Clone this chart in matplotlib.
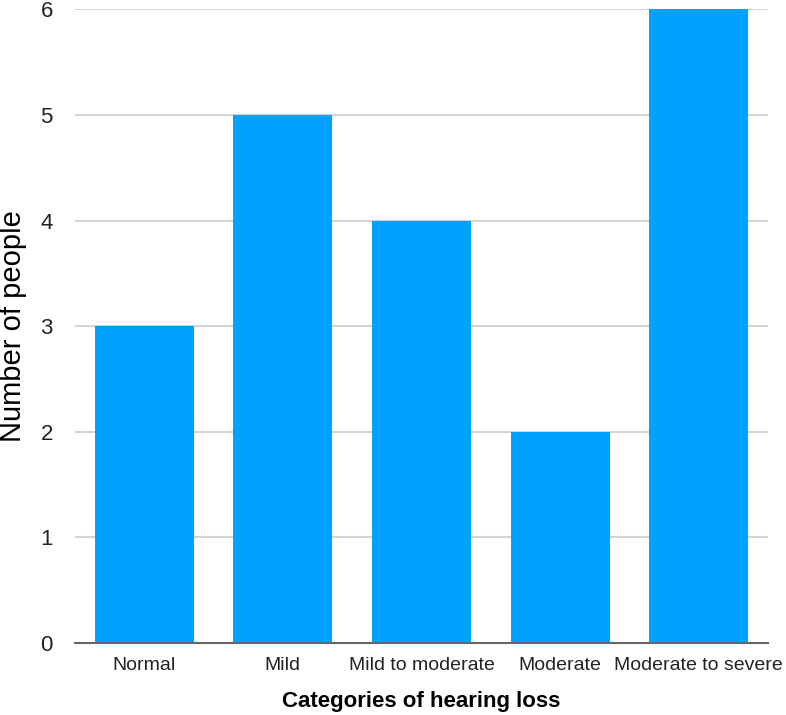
import matplotlib
matplotlib.use("Agg")
import matplotlib.pyplot as plt

categories = ["Normal", "Mild", "Mild to moderate", "Moderate", "Moderate to severe"]
people = [3, 5, 4, 2, 6]
y_ticks = [0, 1, 2, 3, 4, 5, 6]

plt.rcParams['font.family'] = ['Liberation Sans', 'DejaVu Sans']

fig = plt.figure(figsize=(7.86, 7.15), dpi=100)
ax = fig.add_axes([0.0954, 0.1007, 0.8816, 0.8863])

x = range(len(categories))
ax.bar(x, people, width=0.714, color='#00a2ff', zorder=3)

ax.set_xlim(-0.5, len(categories) - 0.5)
ax.set_ylim(0, 6)
ax.set_yticks(y_ticks)
ax.set_xticks(list(x))
ax.set_xticklabels(categories, fontsize=14, color='#222222')
ax.tick_params(axis='y', labelsize=16, length=0, pad=16, colors='#222222')
ax.tick_params(axis='x', length=0, pad=10)

ax.grid(axis='y', color='#d4d4d4', linewidth=1.5, zorder=0)
for s in ['top', 'right', 'left']:
    ax.spines[s].set_visible(False)
ax.spines['bottom'].set_color('#666666')
ax.spines['bottom'].set_linewidth(1.5)
ax.spines['bottom'].set_zorder(4)

ax.set_ylabel("Number of people", fontsize=21, va='center')
ax.yaxis.set_label_coords(-0.09, 0.5)
ax.set_xlabel("Categories of hearing loss", fontsize=16, fontweight='bold', labelpad=12)

fig.savefig("out.png", dpi=100)
